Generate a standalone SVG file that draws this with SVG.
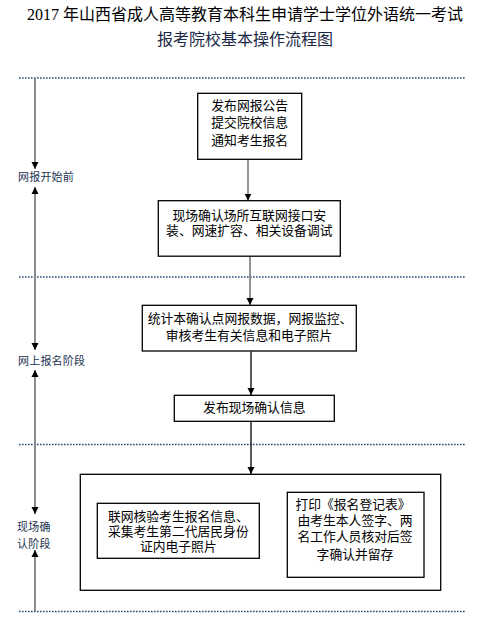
<svg xmlns="http://www.w3.org/2000/svg" width="477" height="619" viewBox="0 0 477 619">
<defs>
<style>
.t{font-family:"Noto Sans CJK SC","Liberation Sans",sans-serif;font-size:12.8px;fill:#000;text-anchor:middle}
.title{font-family:"Liberation Serif","Noto Sans CJK SC",serif;font-size:16px;fill:#000;text-anchor:middle}
.lab{font-family:"Noto Sans CJK SC","Liberation Sans",sans-serif;font-size:11px;fill:#1d3350;letter-spacing:0.2px}
.box{fill:#fff;stroke:#000;stroke-width:1.3}
.dot{stroke:#2a4a72;stroke-width:1.6;stroke-dasharray:1.6 1.4;fill:none}
.tl{stroke:#808080;stroke-width:1.8;fill:none}
.ag{stroke:#707070;stroke-width:1.5;fill:none}
.ab{stroke:#000;stroke-width:1.3;fill:none}
</style>
<marker id="ah" markerUnits="userSpaceOnUse" markerWidth="8" markerHeight="8" refX="7" refY="3.5" orient="auto">
<path d="M0,0 L7,3.5 L0,7 z" fill="#000"/>
</marker>
<marker id="as" markerUnits="userSpaceOnUse" markerWidth="8" markerHeight="8" refX="0" refY="3.5" orient="auto">
<path d="M7,0 L0,3.5 L7,7 z" fill="#000"/>
</marker>
</defs>
<rect width="477" height="619" fill="#fff"/>
<g id="title">
<text class="title" x="245" y="20">2017 年山西省成人高等教育本科生申请学士学位外语统一考试</text>
<text class="title" x="245" y="45" style="fill:#1a2846">报考院校基本操作流程图</text>
</g>
<g id="separators">
<line class="dot" x1="19" y1="78" x2="465" y2="78"/>
<line class="dot" x1="19" y1="277" x2="465" y2="277"/>
<line class="dot" x1="19" y1="444.5" x2="465" y2="444.5"/>
<line class="dot" x1="19" y1="611.5" x2="465" y2="611.5"/>
</g>
<g id="connectors">
<line class="tl" x1="35" y1="78" x2="35" y2="169" marker-end="url(#ah)"/>
<line class="tl" x1="35" y1="187" x2="35" y2="350" marker-start="url(#as)" marker-end="url(#ah)"/>
<line class="tl" x1="35" y1="370" x2="35" y2="514" marker-start="url(#as)" marker-end="url(#ah)"/>
<line class="tl" x1="35" y1="550" x2="35" y2="611" marker-start="url(#as)"/>
<line class="ag" x1="248" y1="159.5" x2="248" y2="200.5" marker-end="url(#ah)"/>
<line class="ag" x1="250" y1="256.5" x2="250" y2="305" marker-end="url(#ah)"/>
<line class="ab" x1="251" y1="351.5" x2="251" y2="395" marker-end="url(#ah)"/>
<line class="ab" x1="251" y1="421.5" x2="251" y2="474" marker-end="url(#ah)"/>
</g>
<g id="label-before">
<text class="lab" x="18" y="181">网报开始前</text>
</g>
<g id="label-online">
<text class="lab" x="18" y="364.5">网上报名阶段</text>
</g>
<g id="label-onsite">
<text class="lab" x="17" y="531">现场确</text>
<text class="lab" x="17" y="548">认阶段</text>
</g>
<g id="node1">
<rect class="box" x="197.7" y="93.3" width="104" height="66"/>
<text class="t" x="249.7" y="109.5">发布网报公告</text>
<text class="t" x="249.7" y="127">提交院校信息</text>
<text class="t" x="249.7" y="144.5">通知考生报名</text>
</g>
<g id="node2">
<rect class="box" x="158.3" y="200.7" width="182" height="55.5"/>
<text class="t" x="249.3" y="219.5">现场确认场所互联网接口安</text>
<text class="t" x="249.3" y="234.5">装、网速扩容、相关设备调试</text>
</g>
<g id="node3">
<rect class="box" x="142.3" y="305.3" width="214" height="45.7"/>
<text class="t" x="250" y="322.8">统计本确认点网报数据，网报监控、</text>
<text class="t" x="249" y="339.5">审核考生有关信息和电子照片</text>
</g>
<g id="node4">
<rect class="box" x="174.3" y="395.3" width="160" height="26"/>
<text class="t" x="254.3" y="411.8">发布现场确认信息</text>
</g>
<g id="node5">
<rect class="box" x="80.3" y="474.3" width="360.4" height="116"/>
</g>
<g id="node5a">
<rect class="box" x="97.3" y="503.3" width="162" height="55"/>
<text class="t" x="178.3" y="520.5">联网核验考生报名信息、</text>
<text class="t" x="178.3" y="536.2">采集考生第二代居民身份</text>
<text class="t" x="178.3" y="551.2">证内电子照片</text>
</g>
<g id="node5b">
<rect class="box" x="287.3" y="492.3" width="136.7" height="85"/>
<text class="t" x="353" y="508.5">打印《报名登记表》</text>
<text class="t" x="355" y="524.5">由考生本人签字、两</text>
<text class="t" x="355" y="540.5">名工作人员核对后签</text>
<text class="t" x="355" y="558.5">字确认并留存</text>
</g>
</svg>
